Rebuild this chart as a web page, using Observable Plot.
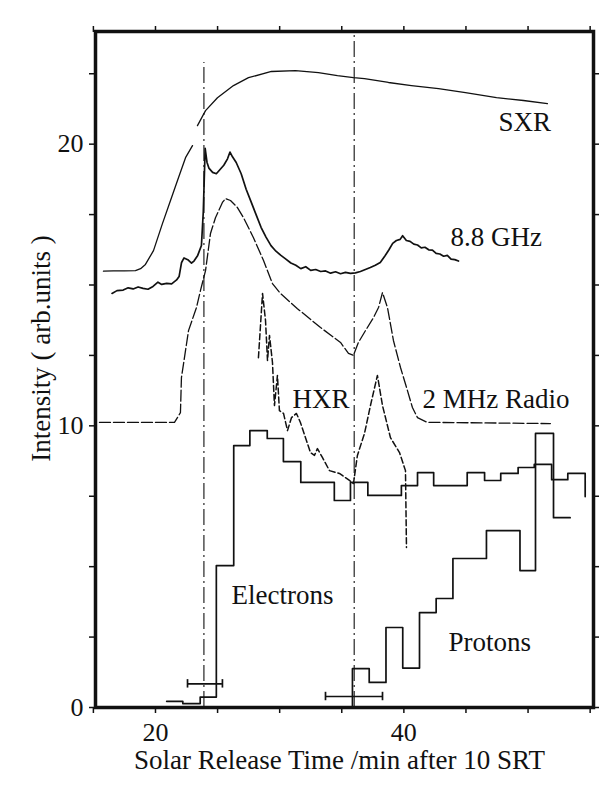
<!DOCTYPE html>
<html><head><meta charset="utf-8">
<script src="https://cdn.jsdelivr.net/npm/d3@7"></script>
<script src="https://cdn.jsdelivr.net/npm/@observablehq/plot@0.6"></script>
<style>body{margin:0;background:#fff}</style>
</head><body><div id="chart"></div>
<script>
// ---- data (time in min after 10 SRT, intensity in arb. units) ----
const sxr = [[15.81,15.49],[16.6,15.50],[17.5,15.50],[18.39,15.51],[18.8,15.58],[19.19,15.73],[19.84,16.22],[20.56,17.18],[21.21,18.00],[21.85,18.81],[22.42,19.52],[22.98,19.95],[23.1,NaN],[23.38,20.66],[24.03,21.19],[24.99,21.65],[26.28,22.08],[27.49,22.36],[29.34,22.58],[31.27,22.61],[33.12,22.54],[34.65,22.43],[35.94,22.36],[36.83,22.33],[38.76,22.19],[40.61,22.08],[42.79,21.97],[44.96,21.83],[47.46,21.65],[49.63,21.55],[51.56,21.44]];
const ghz = [[16.5,14.70],[16.9,14.80],[17.4,14.82],[17.8,14.90],[18.2,14.86],[18.6,14.93],[19.0,14.88],[19.4,14.85],[19.8,14.95],[20.2,15.10],[20.5,15.02],[20.9,15.06],[21.3,15.04],[21.7,15.18],[21.9,15.30],[22.1,15.80],[22.3,15.96],[22.6,15.90],[22.9,15.78],[23.1,15.85],[23.4,16.05],[23.7,16.40],[23.85,17.6],[24.0,19.85],[24.15,19.35],[24.3,19.15],[24.6,19.0],[24.9,18.95],[25.2,19.1],[25.5,19.25],[25.8,19.48],[26.0,19.72],[26.2,19.55],[26.5,19.35],[26.9,18.95],[27.3,18.40],[27.7,17.95],[28.1,17.50],[28.5,17.05],[28.9,16.70],[29.3,16.40],[29.7,16.20],[30.1,16.05],[30.5,15.92],[30.9,15.78],[31.3,15.70],[31.7,15.58],[32.1,15.65],[32.5,15.52],[32.9,15.55],[33.3,15.48],[33.7,15.50],[34.1,15.42],[34.5,15.47],[34.9,15.40],[35.3,15.45],[35.7,15.41],[36.1,15.43],[36.5,15.48],[36.9,15.55],[37.3,15.62],[37.7,15.70],[38.1,15.80],[38.5,16.05],[38.8,16.25],[39.1,16.48],[39.4,16.58],[39.7,16.62],[39.9,16.75],[40.2,16.58],[40.5,16.55],[40.8,16.45],[41.1,16.42],[41.4,16.32],[41.7,16.34],[42.0,16.25],[42.3,16.24],[42.6,16.12],[42.9,16.10],[43.2,16.02],[43.5,16.05],[43.8,15.92],[44.1,15.90],[44.4,15.85]];
const mhz = [[15.49,10.12],[21.53,10.12],[22.01,10.47],[22.09,11.71],[22.66,13.38],[23.30,14.20],[23.62,14.80],[24.03,15.51],[24.43,16.83],[24.83,17.39],[25.39,17.93],[25.64,18.07],[26.04,18.00],[26.60,17.75],[27.09,17.39],[27.89,16.68],[28.70,15.87],[29.42,15.05],[30.06,14.70],[30.87,14.38],[31.43,14.16],[33.29,13.49],[34.90,12.96],[35.54,12.57],[35.94,12.50],[36.34,12.96],[36.91,13.38],[37.55,13.84],[37.96,14.20],[38.28,14.73],[38.68,14.20],[39.16,13.03],[39.73,12.07],[40.29,11.25],[40.69,10.65],[41.10,10.29],[41.90,10.12],[42.95,10.12],[51.80,10.08]];
const hxr = [[28.29,12.42],[28.62,14.70],[28.86,13.74],[29.02,12.32],[29.18,13.21],[29.42,12.25],[29.58,10.72],[29.82,11.79],[29.98,10.54],[30.31,10.44],[30.63,9.83],[30.95,10.29],[31.35,10.44],[31.67,10.12],[32.08,9.58],[32.48,9.05],[32.80,8.95],[33.04,9.19],[33.45,8.87],[34.01,8.41],[34.81,8.31],[35.62,8.06],[35.94,7.95],[36.26,8.95],[36.83,9.73],[37.31,10.72],[37.87,11.79],[38.28,10.72],[38.92,9.58],[39.65,9.05],[40.13,8.41],[40.21,5.68]];
// histograms: [bin start, value]; last entry closes the final bin
const electrons = [[20.9,0.22],[22.2,0.14],[23.6,0.37],[24.9,5.04],[26.3,9.30],[27.6,9.83],[29.0,9.55],[30.3,8.73],[31.7,7.99],[33.0,7.99],[34.4,7.35],[35.7,7.99],[37.1,7.53],[38.4,7.53],[39.8,7.88],[41.1,8.34],[42.4,7.88],[43.8,7.88],[45.1,8.34],[46.5,8.06],[47.8,8.31],[49.2,8.52],[50.5,8.63],[51.9,8.09],[53.2,8.31],[54.6,7.49]];
const protons = [[35.86,0],[35.86,1.38],[37.21,0.89],[38.56,2.84],[39.91,1.40],[41.26,3.37],[42.60,3.87],[43.95,5.29],[46.65,6.28],[49.35,4.86],[50.60,9.73],[52.05,6.74],[53.39,6.74]];
const releaseLines = [{t:23.9, top:22.9}, {t:36.0, top:24}];
const errorBars = [{v:0.84, lo:22.58, hi:25.39}, {v:0.39, lo:33.69, hi:38.28}];
const xTicks = [15, 20, 25, 30, 35, 40, 45, 50, 55];
const xTickLabels = [20, 40];
const yTicks = [0, 2.5, 5, 7.5, 10, 12.5, 15, 17.5, 20, 22.5];
const yTickLabels = [0, 10, 20];
const labels = [
  {text:"SXR", t:47.62, v:20.48},
  {text:"8.8 GHz", t:43.75, v:16.40},
  {text:"HXR", t:31.03, v:10.65},
  {text:"2 MHz Radio", t:41.50, v:10.65},
  {text:"Electrons", t:26.12, v:3.69},
  {text:"Protons", t:43.59, v:2.02}
];
const xTitle = "Solar Release Time /min after 10 SRT";
const yTitle = "Intensity ( arb.units )";

const pts = a => a.map(([t, v]) => ({t, v}));
const serif = "'Liberation Serif','Times New Roman',Times,serif";
const ink = "#111";

const chart = Plot.plot({
  width: 612, height: 792,
  marginTop: 31, marginBottom: 85, marginLeft: 95, marginRight: 19,
  x: {domain: [15.17, 55.27], axis: null, label: null},
  y: {domain: [0, 24], axis: null, label: null},
  style: {fontFamily: serif, background: "#fff", color: ink, overflow: "visible"},
  marks: [
    Plot.ruleX(releaseLines, {x: "t", y1: 0, y2: "top", stroke: ink, strokeWidth: 1.1, strokeDasharray: "16,4,2,4"}),
    Plot.line(pts(sxr), {x: "t", y: "v", stroke: ink, strokeWidth: 1.3}),
    Plot.line(pts(ghz), {x: "t", y: "v", stroke: ink, strokeWidth: 1.7}),
    Plot.line(pts(mhz), {x: "t", y: "v", stroke: ink, strokeWidth: 1.3, strokeDasharray: "11,3"}),
    Plot.line(pts(hxr), {x: "t", y: "v", stroke: ink, strokeWidth: 1.5, strokeDasharray: "6,3"}),
    Plot.line(pts(electrons), {x: "t", y: "v", curve: "step-after", stroke: ink, strokeWidth: 1.7}),
    Plot.line(pts(protons), {x: "t", y: "v", curve: "step-after", stroke: ink, strokeWidth: 1.7}),
    Plot.ruleY(errorBars, {y: "v", x1: "lo", x2: "hi", stroke: ink, strokeWidth: 1.7}),
    Plot.ruleX(errorBars, {x: "lo", y1: d => d.v - 0.15, y2: d => d.v + 0.15, stroke: ink, strokeWidth: 1.7}),
    Plot.ruleX(errorBars, {x: "hi", y1: d => d.v - 0.15, y2: d => d.v + 0.15, stroke: ink, strokeWidth: 1.7}),
    Plot.text(labels, {x: "t", y: "v", text: "text", textAnchor: "start", lineAnchor: "bottom", fontSize: 27, fill: ink}),
    Plot.axisX(xTicks, {anchor: "bottom", tickSize: 6, tickFormat: () => "", label: null, strokeWidth: 1.5}),
    Plot.axisX(xTicks, {anchor: "top", tickSize: 6, tickFormat: () => "", label: null, strokeWidth: 1.5}),
    Plot.axisX(xTickLabels, {anchor: "bottom", tickSize: 0, tickPadding: 15, fontSize: 26, label: null}),
    Plot.axisY(yTicks, {anchor: "left", tickSize: 6, tickFormat: () => "", label: null, strokeWidth: 1.5}),
    Plot.axisY(yTicks, {anchor: "right", tickSize: 5, tickFormat: () => "", label: null, strokeWidth: 1.5}),
    Plot.axisY(yTickLabels, {anchor: "left", tickSize: 0, tickPadding: 12, fontSize: 26, label: null}),
    Plot.frame({stroke: ink, strokeWidth: 3.5}),
    Plot.text([xTitle], {frameAnchor: "bottom", text: d => d, textAnchor: "middle", lineAnchor: "bottom", dx: -5, dy: 61, fontSize: 27, fill: ink}),
    Plot.text([yTitle], {frameAnchor: "left", text: d => d, textAnchor: "middle", rotate: -90, dx: -54, dy: -21, fontSize: 27, fill: ink})
  ]
});
document.getElementById("chart").append(chart);
</script>
</body></html>
